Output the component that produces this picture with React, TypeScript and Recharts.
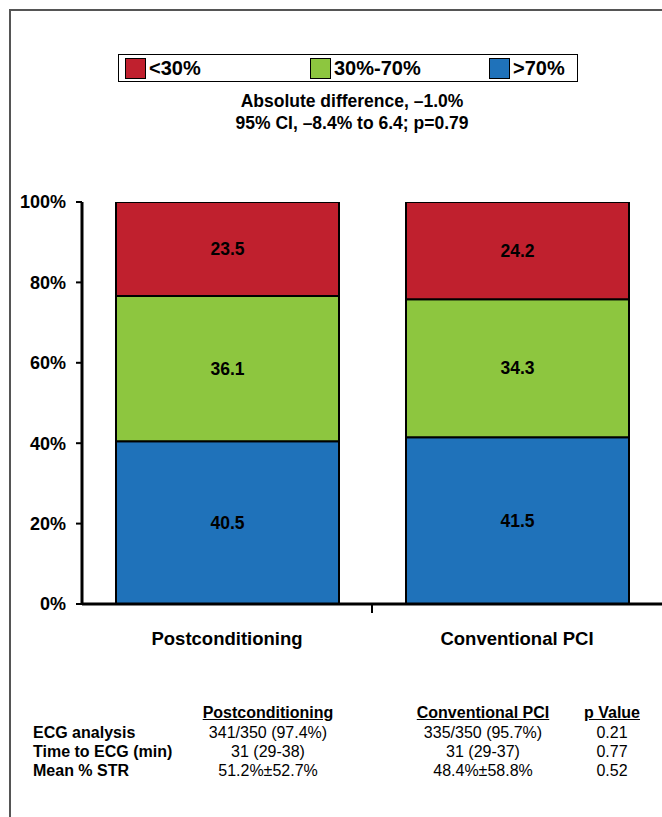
import React from 'react';
import { BarChart, Bar, XAxis, YAxis, Legend, LabelList } from 'recharts';

// categories and stacked values (percent of patients)
const groups = ['Postconditioning', 'Conventional PCI'];
const high = [40.5, 41.5]; // >70%
const mid = [36.1, 34.3]; // 30%-70%
const low = [23.5, 24.2]; // <30%
const yTicks = [0, 20, 40, 60, 80, 100];

const legendItems = [
  { label: '<30%', color: '#C0202E' },
  { label: '30%-70%', color: '#8DC63F' },
  { label: '>70%', color: '#1F72BA' },
];

const annotation = ['Absolute difference, \u20131.0%', '95% CI, \u20138.4% to 6.4; p=0.79'];

const tableHeaders = ['Postconditioning', 'Conventional PCI', 'p Value'];
const tableRows = ['ECG analysis', 'Time to ECG (min)', 'Mean % STR'];
const postValues = ['341/350 (97.4%)', '31 (29-38)', '51.2%\u00b152.7%'];
const convValues = ['335/350 (95.7%)', '31 (29-37)', '48.4%\u00b158.8%'];
const pValues = ['0.21', '0.77', '0.52'];

const data = groups.map((g, i) => ({ name: g, high: high[i], mid: mid[i], low: low[i] }));

const FONT = '"Liberation Sans", Arial, sans-serif';
const colX = [268, 483, 612];

const CategoryTick = (props: any) => {
  const { x, y, payload, index, width, visibleTicksCount } = props;
  const band = width / visibleTicksCount;
  return (
    <g>
      {index === 0 && (
        <line x1={x + band / 2} x2={x + band / 2} y1={y - 9} y2={y + 1} stroke="#000" strokeWidth={2} />
      )}
      <text x={x} y={y + 26} textAnchor="middle" dominantBaseline="central" fontFamily={FONT} fontWeight="bold" fontSize={18.5} fill="#000">
        {payload.value}
      </text>
    </g>
  );
};

const LegendBox = () => (
  <div style={{ border: '1.5px solid #000', height: 28, display: 'flex', alignItems: 'center', paddingLeft: 6, boxSizing: 'border-box', background: '#fff' }}>
    {legendItems.map((it, i) => (
      <div key={it.label} style={{ display: 'flex', alignItems: 'center', width: i < 2 ? [185, 179][i] : undefined }}>
        <span style={{ display: 'inline-block', width: 21, height: 21, background: it.color, border: '1px solid #000', boxSizing: 'border-box', marginRight: 3 }} />
        <span style={{ fontFamily: FONT, fontWeight: 'bold', fontSize: 20, color: '#000' }}>{it.label}</span>
      </div>
    ))}
  </div>
);

const segLabel = (props: any) => {
  const { x, y, width, height, value } = props;
  return (
    <text x={x + width / 2} y={y + height / 2} textAnchor="middle" dominantBaseline="central" fontFamily={FONT} fontWeight="bold" fontSize={17.5} fill="#000">
      {Number(value).toFixed(1)}
    </text>
  );
};

export default function App() {
  return (
    <div style={{ position: 'absolute', left: 0, top: 0, width: 662, height: 817, background: '#fff', overflow: 'hidden' }}>
      {/* frame */}
      <div style={{ position: 'absolute', left: 9, top: 9, width: 700, height: 900, borderLeft: '2px solid #555', borderTop: '2px solid #555' }} />

      <BarChart width={662} height={817} data={data} margin={{ top: 202, right: 0, left: 22, bottom: 153 }} barSize={223}>
        <Legend
          verticalAlign="middle"
          layout="horizontal"
          wrapperStyle={{ top: 54, left: 118, width: 460 }}
          content={() => <LegendBox />}
        />
        <XAxis
          dataKey="name"
          height={60}
          axisLine={{ stroke: '#000', strokeWidth: 3 }}
          tickLine={false}
          tick={<CategoryTick />}
          interval={0}
        />
        <YAxis
          width={60}
          domain={[0, 100]}
          ticks={yTicks}
          allowDataOverflow
          tickFormatter={(v: number) => `${v}%`}
          axisLine={{ stroke: '#000', strokeWidth: 3 }}
          tickLine={{ stroke: '#000', strokeWidth: 2 }}
          tickSize={6}
          tickMargin={10}
          tick={{ fill: '#000', fontFamily: FONT, fontWeight: 'bold', fontSize: 18 }}
        />
        <Bar dataKey="high" stackId="s" fill="#1F72BA" stroke="#000" strokeWidth={2} isAnimationActive={false}>
          <LabelList dataKey="high" content={segLabel} />
        </Bar>
        <Bar dataKey="mid" stackId="s" fill="#8DC63F" stroke="#000" strokeWidth={2} isAnimationActive={false}>
          <LabelList dataKey="mid" content={segLabel} />
        </Bar>
        <Bar dataKey="low" stackId="s" fill="#C0202E" stroke="#000" strokeWidth={2} isAnimationActive={false}>
          <LabelList dataKey="low" content={segLabel} />
        </Bar>
      </BarChart>

      {annotation.map((t, i) => (
        <div key={t} style={{ position: 'absolute', left: 152, width: 400, top: 91 + i * 22, textAlign: 'center', fontFamily: FONT, fontWeight: 'bold', fontSize: 17.5, lineHeight: '20px', color: '#000' }}>
          {t}
        </div>
      ))}

      {/* summary table */}
      {tableHeaders.map((h, i) => (
        <div key={h} style={{ position: 'absolute', left: colX[i] - 100, width: 200, top: 703, textAlign: 'center', fontFamily: FONT, fontWeight: 'bold', fontSize: 16, lineHeight: '19px', textDecoration: 'underline' }}>
          {h}
        </div>
      ))}
      {tableRows.map((r, i) => (
        <React.Fragment key={r}>
          <div style={{ position: 'absolute', left: 33, top: 723 + i * 19, fontFamily: FONT, fontWeight: 'bold', fontSize: 16, lineHeight: '19px' }}>{r}</div>
          {[postValues[i], convValues[i], pValues[i]].map((v, j) => (
            <div key={j} style={{ position: 'absolute', left: colX[j] - 100, width: 200, top: 723 + i * 19, textAlign: 'center', fontFamily: FONT, fontSize: 16, lineHeight: '19px' }}>
              {v}
            </div>
          ))}
        </React.Fragment>
      ))}
    </div>
  );
}
